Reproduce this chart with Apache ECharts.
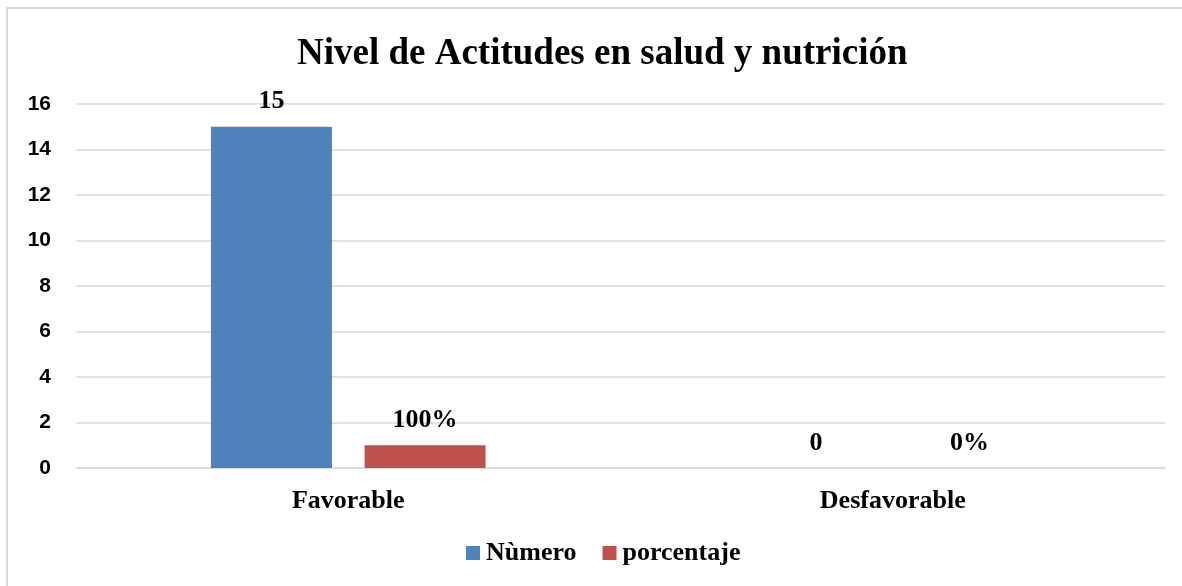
<!DOCTYPE html>
<html>
<head>
<meta charset="utf-8">
<script src="https://cdn.jsdelivr.net/npm/echarts@6/dist/echarts.min.js"></script>
<style>
	html, body { margin: 0; padding: 0; overflow: hidden; background: #fff; }
	#frame { position: absolute; left: 6px; top: 7px; width: 1200px; height: 600px; border: 2px solid #d9d9d9; }
	#chart { position: absolute; left: 0; top: 0; width: 1182px; height: 586px; }
</style>
</head>
<body>
<div id="frame"></div>
<div id="chart"></div>
<script>
	// datos
	var categorias = ['Favorable', 'Desfavorable'];
	var numero = [15, 0];
	var porcentaje = [1, 0];
	var etiquetasPorcentaje = ['100%', '0%'];
	var serif = '"Liberation Serif", "Times New Roman", serif';

	var myChart = echarts.init(document.getElementById('chart'));
	myChart.setOption({
		animation: false,
		title: {
			text: 'Nivel de Actitudes en salud y nutrición',
			left: 292,
			top: 31,
			textStyle: {
				fontFamily: serif,
				fontWeight: 'bold',
				fontSize: 37,
				color: '#000'
			}
		},
		legend: {
			bottom: 15,
			left: 461,
			itemWidth: 14,
			itemHeight: 14,
			itemGap: 26,
			icon: 'rect',
			textStyle: {
				fontFamily: serif,
				fontWeight: 'bold',
				fontSize: 26,
				color: '#000',
				padding: [0, 0, 0, 1]
			},
			data: ['Nùmero', 'porcentaje']
		},
		grid: {
			left: 76,
			right: 17,
			top: 104,
			bottom: 118
		},
		xAxis: {
			type: 'category',
			data: categorias,
			axisLine: { lineStyle: { color: '#d9d9d9', width: 1.5 } },
			axisTick: { show: false },
			axisLabel: {
				margin: 20,
				fontFamily: serif,
				fontWeight: 'bold',
				fontSize: 26,
				color: '#000'
			}
		},
		yAxis: {
			type: 'value',
			min: 0,
			max: 16,
			interval: 2,
			axisLine: { show: false },
			axisTick: { show: false },
			splitLine: { lineStyle: { color: '#d9d9d9', width: 1.5 } },
			axisLabel: {
				margin: 25,
				fontFamily: '"Liberation Sans", Arial, sans-serif',
				fontWeight: 'bold',
				fontSize: 21,
				color: '#000'
			}
		},
		series: [{
			name: 'Nùmero',
			type: 'bar',
			data: numero,
			barWidth: 121,
			barGap: '27%',
			itemStyle: { color: '#4f81bd' },
			label: {
				show: true,
				position: 'top',
				distance: 12,
				fontFamily: serif,
				fontWeight: 'bold',
				fontSize: 26,
				color: '#000'
			}
		}, {
			name: 'porcentaje',
			type: 'bar',
			data: porcentaje,
			barWidth: 121,
			itemStyle: { color: '#c0504d' },
			label: {
				show: true,
				position: 'top',
				distance: 12,
				fontFamily: serif,
				fontWeight: 'bold',
				fontSize: 26,
				color: '#000',
				formatter: function(p) {
					return etiquetasPorcentaje[p.dataIndex];
				}
			}
		}]
	});
</script>
</body>
</html>
